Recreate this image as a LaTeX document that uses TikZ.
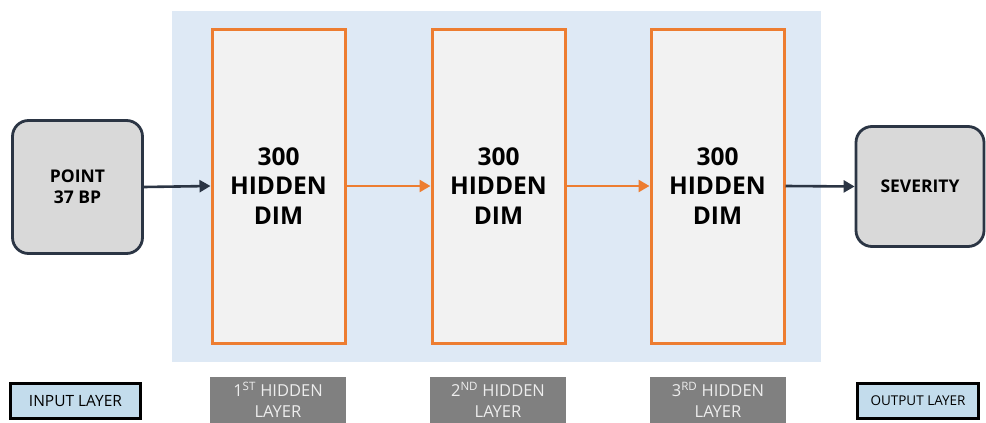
\documentclass[tikz,border=0pt]{standalone}
\usepackage{fontspec}
\setmainfont{Open Sans}
\usetikzlibrary{arrows.meta}
\definecolor{bgblue}{HTML}{DEE9F5}
\definecolor{hfill}{HTML}{F2F2F2}
\definecolor{orng}{HTML}{ED7D31}
\definecolor{dark}{HTML}{2B3544}
\definecolor{iofill}{HTML}{D9D9D9}
\definecolor{lblblue}{HTML}{C3DCEC}
\definecolor{lblgray}{HTML}{808080}
\definecolor{lbltext}{HTML}{EDEDED}
\tikzset{
  hidbox/.style={draw=orng, line width=3pt, fill=hfill, minimum width=133pt, minimum height=314pt, inner sep=0pt, align=center, font=\bfseries\fontsize{24.5}{29.5}\selectfont},
  iobox/.style={draw=dark, line width=2.8pt, fill=iofill, rounded corners=16pt, inner sep=0pt, align=center, font=\bfseries\fontsize{17.5}{21}\selectfont},
  darrow/.style={draw=dark, line width=2.6pt, -{Triangle[length=11pt,width=12pt]}},
  oarrow/.style={draw=orng, line width=2.6pt, -{Triangle[length=11pt,width=12pt]}},
  inlbl/.style={draw=black, line width=2.2pt, fill=lblblue, inner sep=0pt, minimum height=35pt},
  hidlbl/.style={fill=lblgray, text=lbltext, inner sep=0pt, minimum width=136pt, minimum height=47pt, align=center, font=\fontsize{16.5}{21}\selectfont}
}
\begin{document}
\begin{tikzpicture}[x=1pt,y=-1pt]
\useasboundingbox (0,0) rectangle (986,423);
\fill[bgblue] (172,11) rectangle (821,362);
\node[hidbox] (h1) at (278.5,186) {300\\HIDDEN\\DIM};
\node[hidbox] (h2) at (498.5,186) {300\\HIDDEN\\DIM};
\node[hidbox] (h3) at (717.5,186) {300\\HIDDEN\\DIM};
\node[iobox, minimum width=130pt, minimum height=133pt] (in) at (77.5,187) {POINT\\37 BP};
\node[iobox, minimum width=128pt, minimum height=120pt] (out) at (920,186.5) {SEVERITY};
\draw[darrow] (in.east) -- (h1.west);
\draw[oarrow] (h1.east) -- (h2.west);
\draw[oarrow] (h2.east) -- (h3.west);
\draw[darrow] (h3.east) -- (out.west);
\node[inlbl, minimum width=130pt, font=\fontsize{15.5}{18}\selectfont] (il) at (75.5,401) {INPUT LAYER};
\node[hidlbl] (l1) at (278,400) {1\textsuperscript{ST} HIDDEN\\LAYER};
\node[hidlbl] (l2) at (498,400) {2\textsuperscript{ND} HIDDEN\\LAYER};
\node[hidlbl] (l3) at (718,400) {3\textsuperscript{RD} HIDDEN\\LAYER};
\node[inlbl, minimum width=121pt, font=\fontsize{13.5}{16}\selectfont] (ol) at (918,401) {OUTPUT LAYER};
\end{tikzpicture}
\end{document}
